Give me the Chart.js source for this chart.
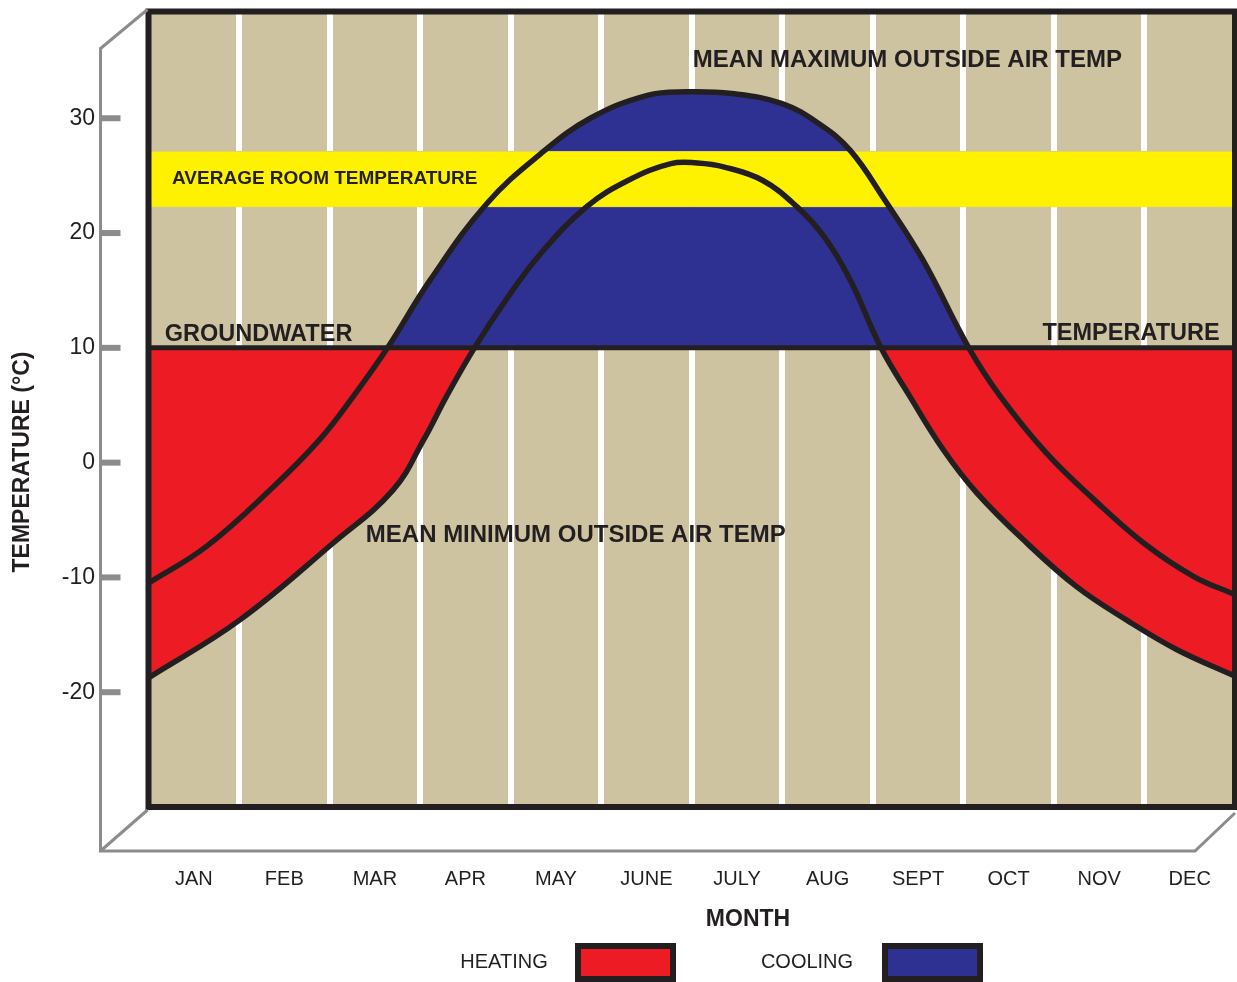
<!DOCTYPE html>
<html>
<head>
<meta charset="utf-8">
<title>Heating and cooling with groundwater</title>
<script src="https://cdn.jsdelivr.net/npm/chart.js@4/dist/chart.umd.min.js"></script>
<style>
  html, body { margin: 0; padding: 0; background: #ffffff; }
  #wrap { width: 1237px; height: 982px; }
</style>
</head>
<body>
<div id="wrap"><canvas id="chart" width="1237" height="982"></canvas></div>
<script>
// ---- data ----
const months = ['JAN', 'FEB', 'MAR', 'APR', 'MAY', 'JUNE', 'JULY', 'AUG', 'SEPT', 'OCT', 'NOV', 'DEC'];

// mean maximum outside air temperature (month position 0..12, °C)
const maxAirMonth = [0, 0.64, 1.38, 1.89, 2.26, 2.64, 3.11, 3.74, 4.33, 4.88, 5.51, 5.94, 6.44, 6.99, 7.41, 7.75, 8.13, 8.55, 9.06, 9.41, 9.92, 10.44, 10.99, 11.54, 12];
const maxAirTemp  = [-10.5, -7.3, -2.1, 2.0, 5.75, 10.0, 15.9, 22.6, 26.9, 30.0, 32.0, 32.3, 32.15, 31.3, 29.5, 27.2, 22.9, 17.7, 10.0, 5.75, 0.8, -3.2, -7.0, -9.9, -11.5];

// mean minimum outside air temperature
const minAirMonth = [0, 1.01, 2.04, 2.70, 3.04, 3.29, 3.60, 3.95, 4.33, 4.84, 5.30, 5.77, 6.06, 6.36, 6.78, 7.16, 7.46, 7.75, 8.09, 8.41, 8.78, 9.15, 9.70, 10.25, 10.80, 11.36, 12];
const minAirTemp  = [-18.75, -13.7, -7.0, -2.4, 2.0, 5.75, 10.0, 14.2, 18.2, 22.3, 24.6, 26.05, 26.1, 25.75, 24.6, 22.3, 19.7, 15.9, 10.0, 5.75, 1.1, -2.65, -7.0, -10.8, -13.7, -16.3, -18.6];

const groundwaterTemp = 10;
const roomTempRange = [22.3, 27.1];
const yTickValues = [-20, -10, 0, 10, 20, 30];
const legendLabels = ['HEATING', 'COOLING'];

// ---- style ----
const FONT = "'Liberation Sans', Arial, Helvetica, sans-serif";
const INK = '#231f20';
const TAN = '#cdc3a1';
const RED = '#ed1c24';
const BLUE = '#2e3192';
const YELLOW = '#fff200';
const FRAME = '#8c8c8c';
const SMOOTH = 0.4;

const pts = (xs, ys) => xs.map((x, i) => ({ x: x, y: ys[i] }));
const flat = (v) => [{ x: 0, y: v }, { x: 12, y: v }];

const curveLine = {
  borderColor: INK, borderWidth: 5.5, pointRadius: 0, fill: false,
  tension: SMOOTH, order: 0, borderCapStyle: 'round', borderJoinStyle: 'round'
};

// text placed in data coordinates (month, °C)
const notes = [
  { text: 'MEAN MAXIMUM OUTSIDE AIR TEMP', m: 6.01, t: 35.05, size: 24, align: 'left' },
  { text: 'MEAN MINIMUM OUTSIDE AIR TEMP', m: 2.40, t: -6.3, size: 24, align: 'left' },
  { text: 'AVERAGE ROOM TEMPERATURE', m: 0.26, t: 24.75, size: 19, align: 'left' },
  { text: 'GROUNDWATER', m: 0.18, t: 11.2, size: 23.5, align: 'left' },
  { text: 'TEMPERATURE', m: 11.83, t: 11.25, size: 23.5, align: 'right' }
];

// keep tick padding from shrinking the plot area
function noMargins(s) {
  s.paddingTop = 0; s.paddingBottom = 0; s.paddingLeft = 0; s.paddingRight = 0;
}

const decor = {
  id: 'decor',
  beforeDraw(chart) {
    const { ctx, chartArea: a } = chart;
    ctx.save();
    ctx.fillStyle = '#ffffff';
    ctx.fillRect(0, 0, chart.width, chart.height);
    ctx.fillStyle = TAN;
    ctx.fillRect(a.left, a.top, a.right - a.left, a.bottom - a.top);
    ctx.restore();
  },
  afterDatasetsDraw(chart) {
    const { ctx, chartArea: a, scales } = chart;
    ctx.save();
    // in-plot labels
    ctx.fillStyle = INK;
    ctx.textBaseline = 'middle';
    notes.forEach(n => {
      ctx.font = 'bold ' + n.size + 'px ' + FONT;
      ctx.textAlign = n.align;
      ctx.fillText(n.text, scales.x.getPixelForValue(n.m), scales.y.getPixelForValue(n.t));
    });
    // plot frame
    ctx.strokeStyle = INK;
    ctx.lineWidth = 6;
    ctx.strokeRect(a.left, a.top, a.right - a.left, a.bottom - a.top);
    ctx.restore();
  },
  afterDraw(chart) {
    const { ctx, chartArea: a, scales } = chart;
    const y = scales.y;
    ctx.save();
    // receding box outline
    const bx = a.left - 48, by = a.bottom + 44, rx = a.right - 40;
    ctx.strokeStyle = FRAME;
    ctx.lineWidth = 3;
    ctx.lineJoin = 'miter';
    ctx.beginPath();
    ctx.moveTo(a.left - 1, a.top - 2);
    ctx.lineTo(bx, a.top + 37);
    ctx.lineTo(bx, by);
    ctx.lineTo(rx, by);
    ctx.lineTo(a.right, a.bottom + 6);
    ctx.stroke();
    ctx.beginPath();
    ctx.moveTo(bx, by);
    ctx.lineTo(a.left - 1, a.bottom + 3);
    ctx.stroke();
    // tick marks
    ctx.strokeStyle = FRAME;
    ctx.lineWidth = 6;
    yTickValues.forEach(v => {
      const py = y.getPixelForValue(v);
      ctx.beginPath();
      ctx.moveTo(bx + 1, py);
      ctx.lineTo(bx + 20, py);
      ctx.stroke();
    });
    // axis titles
    ctx.fillStyle = INK;
    ctx.textAlign = 'center';
    ctx.textBaseline = 'middle';
    ctx.font = 'bold 23px ' + FONT;
    ctx.save();
    ctx.translate(22.5, 462);
    ctx.rotate(-Math.PI / 2);
    ctx.fillText('TEMPERATURE (°C)', 0, 0);
    ctx.restore();
    ctx.fillText('MONTH', 748, 920);
    // legend
    const items = [
      { label: legendLabels[0], color: RED, tx: 504, bx: 575 },
      { label: legendLabels[1], color: BLUE, tx: 807, bx: 882 }
    ];
    ctx.font = '20px ' + FONT;
    items.forEach(it => {
      ctx.fillStyle = INK;
      ctx.fillText(it.label, it.tx, 962);
      ctx.fillRect(it.bx, 943, 101, 39);
      ctx.fillStyle = it.color;
      ctx.fillRect(it.bx + 6, 949, 89, 27);
    });
    ctx.restore();
  }
};

new Chart(document.getElementById('chart'), {
  type: 'line',
  data: {
    datasets: [
      Object.assign({ label: 'Mean maximum outside air temp', data: pts(maxAirMonth, maxAirTemp) }, curveLine),
      Object.assign({ label: 'Mean minimum outside air temp', data: pts(minAirMonth, minAirTemp) }, curveLine),
      { label: 'Groundwater temperature', data: flat(groundwaterTemp), borderColor: INK, borderWidth: 5,
        pointRadius: 0, fill: false, order: 0 },
      { label: 'Average room temperature', data: flat(roomTempRange[1]), borderColor: '#e4d84c', borderWidth: 1,
        pointRadius: 0, backgroundColor: YELLOW, fill: '+1', order: 1 },
      { label: 'Room low', data: flat(roomTempRange[0]), borderColor: '#e4d84c', borderWidth: 1,
        pointRadius: 0, fill: false, order: 1 },
      { label: 'Cooling', data: pts(maxAirMonth, maxAirTemp), borderWidth: 0, borderColor: 'rgba(0,0,0,0)',
        pointRadius: 0, tension: SMOOTH, order: 2,
        fill: { target: { value: groundwaterTemp }, above: BLUE, below: 'rgba(0,0,0,0)' } },
      { label: 'Heating', data: pts(minAirMonth, minAirTemp), borderWidth: 0, borderColor: 'rgba(0,0,0,0)',
        pointRadius: 0, tension: SMOOTH, order: 2,
        fill: { target: { value: groundwaterTemp }, above: 'rgba(0,0,0,0)', below: RED } }
    ]
  },
  options: {
    responsive: false,
    animation: false,
    devicePixelRatio: 1,
    layout: { padding: { left: 0, top: 11.5, right: 2, bottom: 0 } },
    plugins: { legend: { display: false }, tooltip: { enabled: false }, title: { display: false } },
    scales: {
      x: { type: 'linear', min: 0, max: 12, display: false },
      month: {
        type: 'category', labels: months, position: 'bottom', offset: true,
        grid: { offset: true, color: '#ffffff', lineWidth: 6, drawTicks: false },
        border: { display: false },
        ticks: { color: INK, font: { family: FONT, size: 20 }, padding: 60, maxRotation: 0, autoSkip: false },
        afterFit(s) { s.height = 175; noMargins(s); }
      },
      y: {
        type: 'linear', position: 'left', min: -30, max: 39.3,
        afterBuildTicks(s) { s.ticks = yTickValues.map(v => ({ value: v })); },
        grid: { display: false, drawTicks: false },
        border: { display: false },
        ticks: { color: INK, font: { family: FONT, size: 23 }, padding: 53.5 },
        afterFit(s) { s.width = 148.5; noMargins(s); }
      }
    }
  },
  plugins: [decor]
});
</script>
</body>
</html>
